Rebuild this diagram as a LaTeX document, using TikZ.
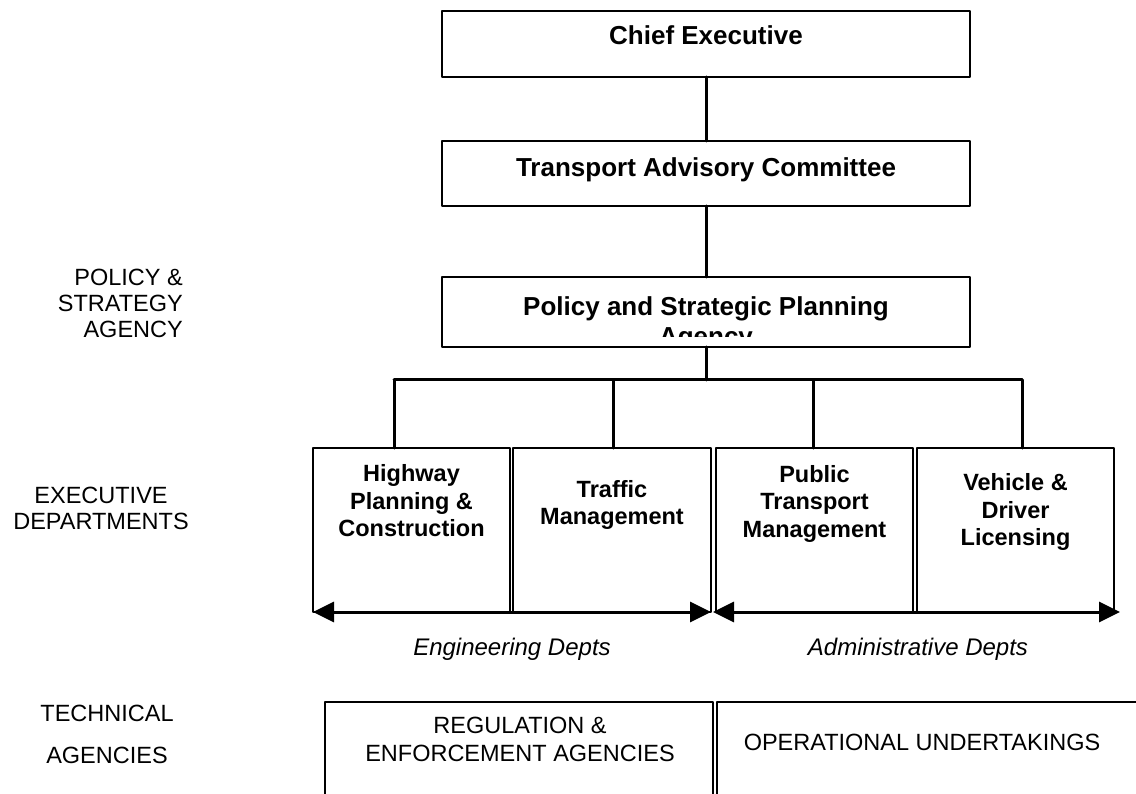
\documentclass[tikz,border=0pt]{standalone}
\usepackage{fontspec}
\setmainfont{Liberation Sans}
\usetikzlibrary{arrows.meta}
\begin{document}
\begin{tikzpicture}[x=1pt, y=-1pt, line join=round, line cap=round, >={Triangle[length=21pt, width=20pt]},
box/.style={draw, line width=1.6pt, inner sep=0pt, outer sep=0pt, anchor=north west},
link/.style={line width=3pt},
head/.style={font=\fontsize{26}{30}\selectfont\bfseries, inner sep=0pt},
dept/.style={font=\fontsize{23.5}{27.5}\selectfont\bfseries, align=center, inner sep=0pt},
plain/.style={font=\fontsize{23.5}{26}\selectfont, inner sep=0pt},
note/.style={font=\fontsize{24}{28}\selectfont\itshape, inner sep=0pt}]
\useasboundingbox (0,0) rectangle (1136,794);
\clip (0,0) rectangle (1136,794);
%Khung trên
\node[box, minimum width=528, minimum height=66] (ce) at (442,11) {};
\node[box, minimum width=528, minimum height=65] (tac) at (442,141) {};
\node[box, minimum width=528, minimum height=70] (pspa) at (442,277) {};
\node[head, anchor=base] (cet) at (706,45) {Chief Executive};
\node[head, anchor=base] (tact) at (706,177) {Transport Advisory Committee};
\begin{scope}
\clip (443,278) rectangle (969,337);
\node[head, align=center, anchor=north] (pspat) at (706,296) {Policy and Strategic Planning\\Agency};
\end{scope}
%Các phòng ban
\node[box, minimum width=197, minimum height=164] (hw) at (313,448) {};
\node[box, minimum width=198, minimum height=164] (tm) at (513,448) {};
\node[box, minimum width=197, minimum height=164] (pt) at (716,448) {};
\node[box, minimum width=197, minimum height=164] (vd) at (917,448) {};
\foreach \n/\x/\y/\t in {hwt/411.5/501/{Highway\\Planning \&\\Construction},
  tmt/612/505/{Traffic\\Management},
  ptt/814.5/503.5/{Public\\Transport\\Management},
  vdt/1015.5/512/{Vehicle \&\\Driver\\Licensing}}
\node[dept] (\n) at (\x,\y) {\t};
\path (394,380) coordinate (b1) (613,380) coordinate (b2)
(813,380) coordinate (b3) (1022,380) coordinate (b4)
(706,380) coordinate (bc);
\draw[link] (ce) -- (tac);
\draw[link] (tac) -- (pspa);
\draw[link] (pspa) -- (bc);
\draw[link] (b1) -- (b4);
\foreach \b/\d in {b1/hw, b2/tm, b3/pt, b4/vd}
\draw[link] (\b) -- (\b |- \d.north);
\draw[link, <->] (hw.south west) -- (tm.south east);
\draw[link, <->, shorten <=-3pt, shorten >=-6pt] (pt.south west) -- (vd.south east);
\node[note] (eng) at (512,649) {Engineering Depts};
\node[note] (adm) at (918,649) {Administrative Depts};
%Khung dưới
\node[box, minimum width=388, minimum height=140] (rea) at (325,702) {};
\node[box, minimum width=460, minimum height=140] (ou) at (717,702) {};
\node[plain, align=center, font=\fontsize{23.5}{28}\selectfont] (reat) at (520,739) {REGULATION \&\\ENFORCEMENT AGENCIES};
\node[plain] (out) at (922,742) {OPERATIONAL UNDERTAKINGS};
%Nhãn bên trái
\node[plain, align=right, anchor=east] (psa) at (183,303) {POLICY \&\\STRATEGY\\AGENCY};
\node[plain, align=center] (exd) at (101,508) {EXECUTIVE\\DEPARTMENTS};
\node[plain, align=center, font=\fontsize{23.5}{42}\selectfont] (tga) at (107,734) {TECHNICAL\\AGENCIES};
\end{tikzpicture}
\end{document}
